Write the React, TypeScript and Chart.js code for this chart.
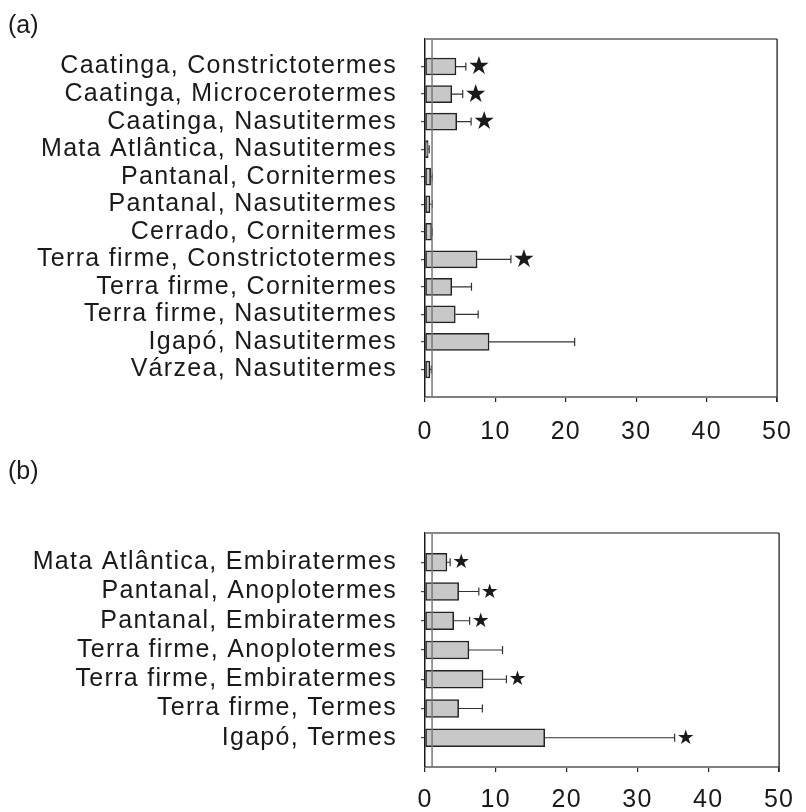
import React, { useEffect, useRef } from 'react';
import { Chart, registerables } from 'chart.js';

Chart.register(...registerables);

// ---------- data ----------
const catsA = [
  'Caatinga, Constrictotermes',
  'Caatinga, Microcerotermes',
  'Caatinga, Nasutitermes',
  'Mata Atlântica, Nasutitermes',
  'Pantanal, Cornitermes',
  'Pantanal, Nasutitermes',
  'Cerrado, Cornitermes',
  'Terra firme, Constrictotermes',
  'Terra firme, Cornitermes',
  'Terra firme, Nasutitermes',
  'Igapó, Nasutitermes',
  'Várzea, Nasutitermes',
];
const meanA = [4.4, 3.8, 4.5, 0.45, 0.8, 0.7, 0.95, 7.4, 3.8, 4.3, 9.1, 0.7];
const errA = [1.4, 1.55, 2.05, 0.15, 0.25, 0.35, 0.1, 4.8, 2.8, 3.25, 12.15, 0.2];
const starA = [true, true, true, false, false, false, false, true, false, false, false, false];

const catsB = [
  'Mata Atlântica, Embiratermes',
  'Pantanal, Anoplotermes',
  'Pantanal, Embiratermes',
  'Terra firme, Anoplotermes',
  'Terra firme, Embiratermes',
  'Terra firme, Termes',
  'Igapó, Termes',
];
const meanB = [3.1, 4.75, 4.05, 6.2, 8.2, 4.75, 16.9];
const errB = [0.45, 2.85, 2.25, 4.75, 3.3, 3.35, 18.35];
const starB = [true, true, true, false, true, false, true];

const xTicks = [0, 10, 20, 30, 40, 50];
const refValue = 1;
const panelLabels = ['(a)', '(b)'];

const FONT = '"Liberation Sans", Arial, sans-serif';
const TEXT = '#1a1a1a';

type PanelProps = {
  cats: string[];
  means: number[];
  errs: number[];
  stars: boolean[];
  width: number;
  height: number;
  top: number;
  padTop: number;
  xAxisH: number;
  xPad: number;
  barThickness: number;
  starSize: number;
  starGap: number;
};

function Panel(p: PanelProps) {
  const ref = useRef<HTMLCanvasElement>(null);
  useEffect(() => {
    const canvas = ref.current;
    if (!canvas) return;
    const labels = ['', ...p.cats, ''];
    const data: (number | null)[] = [null, ...p.means, null];
    const extras = {
      id: 'extras',
      beforeDraw(chart: any) {
        chart.ctx.letterSpacing = '1.3px';
      },
      afterDatasetsDraw(chart: any) {
        const ctx = chart.ctx;
        const a = chart.chartArea;
        const x = chart.scales.x;
        const y = chart.scales.y;
        ctx.save();
        ctx.letterSpacing = '0px';
        // error bars
        ctx.strokeStyle = '#333';
        ctx.lineWidth = 1.2;
        p.means.forEach((m, i) => {
          const yp = y.getPixelForValue(i + 1);
          const x0 = x.getPixelForValue(m);
          const x1 = x.getPixelForValue(m + p.errs[i]);
          ctx.beginPath();
          ctx.moveTo(x0, yp);
          ctx.lineTo(x1, yp);
          ctx.moveTo(x1, yp - 4);
          ctx.lineTo(x1, yp + 4);
          ctx.stroke();
          if (p.stars[i]) {
            ctx.fillStyle = TEXT;
            ctx.font = `${p.starSize}px "DejaVu Sans"`;
            ctx.textAlign = 'center';
            ctx.textBaseline = 'middle';
            ctx.fillText('★', x1 + p.starGap, yp + 1);
          }
        });
        // reference line
        const rx = x.getPixelForValue(refValue);
        ctx.strokeStyle = '#7a7a7a';
        ctx.lineWidth = 1.5;
        ctx.beginPath();
        ctx.moveTo(rx, a.top);
        ctx.lineTo(rx, a.bottom);
        ctx.stroke();
        // frame: top and right
        ctx.strokeStyle = '#888';
        ctx.lineWidth = 1.8;
        ctx.beginPath();
        ctx.moveTo(a.left, a.top);
        ctx.lineTo(a.right, a.top);
        ctx.stroke();
        ctx.strokeStyle = '#222';
        ctx.lineWidth = 1.3;
        ctx.beginPath();
        ctx.moveTo(a.right, a.top);
        ctx.lineTo(a.right, a.bottom + 5);
        ctx.stroke();
        ctx.restore();
      },
    };
    const chart = new Chart(canvas, {
      type: 'bar',
      data: {
        labels,
        datasets: [
          {
            data,
            backgroundColor: '#c8c8c8',
            borderColor: '#222',
            borderWidth: 1.5,
            borderSkipped: false,
            barThickness: p.barThickness,
          } as any,
        ],
      },
      options: {
        indexAxis: 'y',
        responsive: false,
        animation: false,
        devicePixelRatio: 1,
        layout: { padding: { top: p.padTop, right: 16, left: 0, bottom: 0 } },
        plugins: { legend: { display: false }, tooltip: { enabled: false } },
        scales: {
          x: {
            type: 'linear',
            position: 'bottom',
            min: 0,
            max: 50,
            afterBuildTicks: (s: any) => {
              s.ticks = xTicks.map((v) => ({ value: v }));
            },
            ticks: {
              font: { family: FONT, size: 25 },
              color: TEXT,
              padding: p.xPad,
              maxRotation: 0,
            },
            grid: {
              drawOnChartArea: false,
              drawTicks: true,
              tickLength: 5,
              tickColor: '#222',
              lineWidth: 1.2,
            },
            border: { display: true, color: '#808080', width: 2 },
            afterFit: (s: any) => {
              s.height = p.xAxisH;
            },
          },
          y: {
            type: 'category',
            offset: false,
            grid: {
              offset: false,
              drawOnChartArea: false,
              tickLength: 4,
              lineWidth: 1.2,
              tickColor: (c: any) =>
                c.index === 0 || c.index === labels.length - 1 ? 'rgba(0,0,0,0)' : '#444',
            },
            border: { display: true, color: '#1a1a1a', width: 1.5 },
            ticks: {
              font: { family: FONT, size: 25 },
              color: TEXT,
              padding: 24,
              autoSkip: false,
            },
            afterFit: (s: any) => {
              s.width = 425;
            },
          },
        },
      } as any,
      plugins: [extras],
    });
    return () => chart.destroy();
  }, []);
  return (
    <canvas
      ref={ref}
      width={p.width}
      height={p.height}
      style={{ position: 'absolute', left: 0, top: p.top, width: p.width, height: p.height }}
    />
  );
}

export default function App() {
  const labelStyle: React.CSSProperties = {
    position: 'absolute',
    left: 8,
    fontFamily: FONT,
    fontSize: 25,
    lineHeight: '30px',
    color: TEXT,
  };
  return (
    <div
      style={{
        position: 'absolute',
        left: 0,
        top: 0,
        width: 806,
        height: 812,
        background: '#fff',
        overflow: 'hidden',
      }}
    >
      <Panel
        cats={catsA}
        means={meanA}
        errs={errA}
        stars={starA}
        width={806}
        height={440}
        top={0}
        padTop={35.5}
        xAxisH={43}
        xPad={15}
        barThickness={17}
        starSize={25}
        starGap={13}
      />
      <Panel
        cats={catsB}
        means={meanB}
        errs={errB}
        stars={starB}
        width={806}
        height={372}
        top={440}
        padTop={93}
        xAxisH={45}
        xPad={13}
        barThickness={18}
        starSize={20}
        starGap={11}
      />
      <div style={{ ...labelStyle, top: 9 }}>{panelLabels[0]}</div>
      <div style={{ ...labelStyle, top: 455 }}>{panelLabels[1]}</div>
    </div>
  );
}
